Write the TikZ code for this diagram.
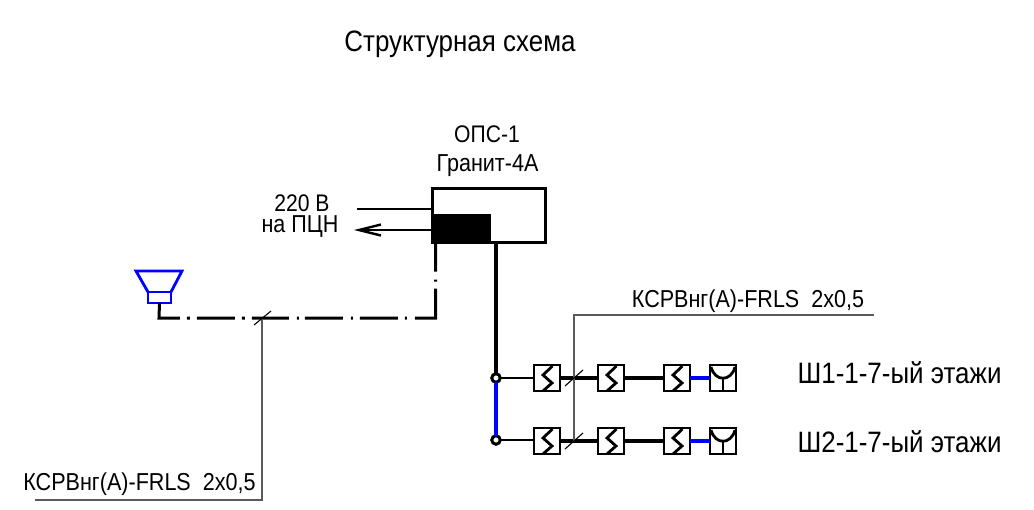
\documentclass[tikz,border=0pt]{standalone}
\usepackage{fontspec}
\setmainfont[FakeStretch=0.88]{Liberation Sans}
\usetikzlibrary{arrows.meta}
\definecolor{leader}{RGB}{90,90,90}
\tikzset{
  lbl/.style={inner sep=0pt, font=\fontsize{#1}{#1}\selectfont},
  wire/.style={line width=3.4pt, black},
  thinwire/.style={line width=2.8pt, black},
  bluewire/.style={line width=3.6pt, blue},
  leaderline/.style={line width=1.4pt, leader},
  slash/.style={line width=1.1pt, black},
  dashdotline/.style={line width=3pt, dash pattern=on 36pt off 7pt on 3pt off 7pt on 38pt off 7pt on 3pt off 7pt on 37pt off 8pt on 2pt off 6pt on 38pt off 8pt on 2pt off 7pt on 38pt off 7pt on 2pt off 8pt on 50pt off 7pt on 2pt off 8pt on 40pt off 100pt},
  detector/.style={draw, line width=2.8pt, minimum size=26pt, inner sep=0pt, outer sep=0pt, fill=white,
    path picture={\draw[line width=2.8pt, line join=miter] (path picture bounding box.center) ++(5.5,-12) -- ++(-9.5,9) -- ++(9,8) -- ++(-9,8);}},
  socket/.style={draw, line width=2.8pt, minimum size=26pt, inner sep=0pt, outer sep=0pt, fill=white,
    path picture={\draw[line width=2.8pt] (path picture bounding box.center) ++(-12,-11) .. controls (-8,4) and (8,4) .. ++(24,0);
      \draw[line width=2.8pt] (path picture bounding box.center) ++(0,1) -- ++(0,13);}},
  junct/.style={circle, draw, line width=3pt, fill=white, minimum size=8.5pt, inner sep=0pt, outer sep=0pt},
}
\begin{document}
\begin{tikzpicture}[x=1pt,y=-1pt]
\useasboundingbox (0,0) rectangle (1034,509);
\node[lbl=29.5] (title) at (460,44){Структурная схема};
\node[lbl=24] (opsname) at (487,134){ОПС-1};
\node[lbl=24.5] (opstype) at (487.5,166){Гранит-4А};
\node[lbl=24] (pwrtxt) at (302,203.5){220 В};
\node[lbl=24.5] (pcntxt) at (300,226.5){на ПЦН};
\node[lbl=24.5] (cableleft) at (139.5,484){КСРВнг(А)-FRLS\ \ 2х0,5};
\node[lbl=24.5] (cabletop) at (748,301){КСРВнг(А)-FRLS\ \ 2х0,5};
\node[lbl=29.5] (floor1) at (899.5,373){Ш1-1-7-ый этажи};
\node[lbl=29.5] (floor2) at (899.5,442){Ш2-1-7-ый этажи};
% panel
\node[draw, line width=2.8pt, minimum width=113pt, minimum height=54pt, inner sep=0pt, outer sep=0pt] (ops) at (489,215.5){};
\node[draw, fill=black, line width=1pt, minimum width=58pt, minimum height=28pt, inner sep=0pt, outer sep=0pt] (opsblk) at (461.5,228.5){};
\coordinate (pwrfrom) at (357,209);
\coordinate (pwrto) at (432,209);
\coordinate (pcnfrom) at (432,230);
\coordinate (pcnto) at (354,230);
\draw[thinwire] (pwrfrom) -- (pwrto);
\draw[thinwire, -{Straight Barb[length=22pt, width=11pt, line width=2.4pt]}] (pcnfrom) -- (pcnto);
% sounder
\node[draw=blue, line width=2.8pt, minimum width=23pt, minimum height=11pt, inner sep=0pt, outer sep=0pt] (horn) at (159.5,297.5){};
\draw[blue, line width=2.8pt, line join=miter] (horn.north west) -- (136,271) -- (182,271) -- (horn.north east);
\coordinate (hornbend) at (159,318);
\coordinate (opsbend) at (435.5,318);
\coordinate (opsout) at (435.5,243);
\draw[dashdotline] (horn.south) -- (hornbend) -- (opsbend) -- (opsout);
% loops
\node[junct] (jn1) at (496,378){};
\node[junct] (jn2) at (496,440){};
\node[detector] (det11) at (547,378){};
\node[detector] (det12) at (611,378){};
\node[detector] (det13) at (677,378){};
\node[socket] (sock1) at (723,378){};
\node[detector] (det21) at (547,441){};
\node[detector] (det22) at (611,441){};
\node[detector] (det23) at (677,441){};
\node[socket] (sock2) at (723,441){};
\coordinate (opsloop) at (496,243);
\draw[wire] (opsloop) -- (jn1);
\draw[bluewire] (jn1) -- (jn2);
\draw[thinwire] (jn1) -- (det11);
\draw[thinwire] (jn2) -- (jn2 -| det21.west);
\draw[wire] (det11) -- (det12);
\draw[wire] (det12) -- (det13);
\draw[bluewire] (det13) -- (sock1);
\draw[wire] (det21) -- (det22);
\draw[wire] (det22) -- (det23);
\draw[bluewire] (det23) -- (sock2);
% cable marks
\coordinate (topend) at (874,315);
\coordinate (topbend) at (574,315);
\coordinate (topfoot) at (574,441);
\draw[leaderline] (topend) -- (topbend) -- (topfoot);
\coordinate (leftend) at (35,500);
\coordinate (leftbend) at (262,500);
\coordinate (leftfoot) at (262,318);
\draw[leaderline] (leftend) -- (leftbend) -- (leftfoot);
\coordinate (s1a) at (565,386);
\coordinate (s1b) at (583,370);
\coordinate (s2a) at (565,449);
\coordinate (s2b) at (583,433);
\coordinate (s3a) at (254,325);
\coordinate (s3b) at (271,311);
\draw[slash] (s1a) -- (s1b);
\draw[slash] (s2a) -- (s2b);
\draw[slash] (s3a) -- (s3b);
\end{tikzpicture}
\end{document}
